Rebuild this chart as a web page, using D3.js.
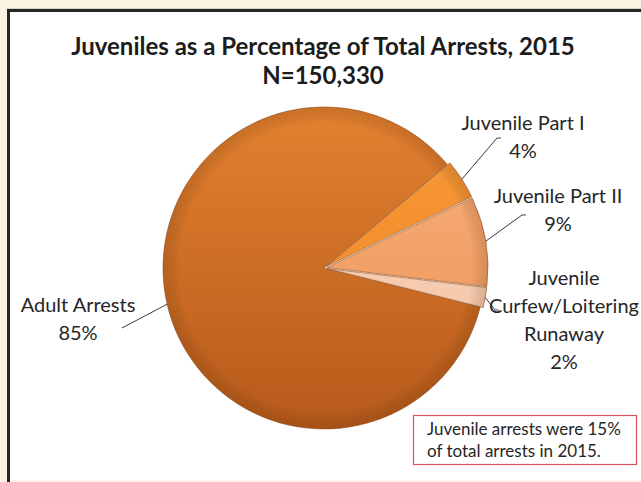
<!DOCTYPE html>
<html>
<head>
<meta charset="utf-8">
<script src="https://cdn.jsdelivr.net/npm/d3@7"></script>
<style>
  body { margin: 0; background: #fbf3e3; }
  svg { display: block; }
  text { font-family: Lato, "Open Sans", sans-serif; fill: #262626; }
</style>
</head>
<body>
<svg id="chart" width="641" height="482"></svg>
<script>
// chart data
const categories = ["Adult Arrests", "Juvenile Part I", "Juvenile Part II", "Juvenile Curfew/Loitering Runaway"]
const percents = [85, 4, 9, 2]
const labelLines = [["Adult Arrests"], ["Juvenile Part I"], ["Juvenile Part II"], ["Juvenile", "Curfew/Loitering", "Runaway"]]
const titleLines = ["Juveniles as a Percentage of Total Arrests, 2015", "N=150,330"]
const noteLines = ["Juvenile arrests were 15%", "of total arrests in 2015."]

// slice look: gradient top / bottom
const sliceColors = [
    ["#e3812f", "#b65a1b"],
    ["#f99a38", "#ec8426"],
    ["#fab27d", "#e98f52"],
    ["#fcdcc6", "#f0bd9c"]
]

// label placement (text anchor point, leader end)
const labelLayout = [
    {x: 78, y: 312, lead: [[122, 328]]},
    {x: 523, y: 130, lead: [[497, 138], [501, 138]]},
    {x: 558, y: 203, lead: [[522, 215], [526, 215]]},
    {x: 564, y: 285, lead: [[495, 310], [499, 310]]}
]

const width = 641, height = 482
const cx = 324, cy = 268, radius = 161
const deg = Math.PI / 180
const startDeg = 50 - 306

const svg = d3.select('#chart')

// frame
svg.append('rect').attr('width', width).attr('height', height).attr('fill', '#fbf3e3')
svg.append('rect').attr('x', 10).attr('y', 12).attr('width', width).attr('height', 468).attr('fill', '#fff')
svg.append('line').attr('x1', 7).attr('x2', width).attr('y1', 8.5).attr('y2', 8.5)
    .attr('stroke', '#d9d2c4').attr('stroke-width', 1)
svg.append('line').attr('x1', 7).attr('x2', width).attr('y1', 10.5).attr('y2', 10.5)
    .attr('stroke', '#262626').attr('stroke-width', 3)
svg.append('line').attr('x1', 8.5).attr('x2', 8.5).attr('y1', 9).attr('y2', height)
    .attr('stroke', '#262626').attr('stroke-width', 3)

// title
svg.append('g').selectAll('text')
    .data(titleLines)
    .enter()
        .append('text')
        .attr('x', 323)
        .attr('y', (d, i) => 55 + i * 29)
        .attr('text-anchor', 'middle')
        .style('font-weight', 'bold')
        .style('font-size', '24px')
        .style('fill', '#1c1c1c')
        .text(d => d)

// gradients (coords local to the pie group)
const defs = svg.append('defs')
sliceColors.forEach((c, i) => {
    const g = defs.append('linearGradient')
        .attr('id', 'grad' + i)
        .attr('gradientUnits', 'userSpaceOnUse')
        .attr('x1', 0).attr('x2', 0)
        .attr('y1', -radius).attr('y2', radius)
    g.append('stop').attr('offset', '0%').attr('stop-color', c[0])
    g.append('stop').attr('offset', '100%').attr('stop-color', c[1])
})
const rim = defs.append('radialGradient')
    .attr('id', 'rim')
    .attr('gradientUnits', 'userSpaceOnUse')
    .attr('cx', 0).attr('cy', 0).attr('r', radius)
rim.append('stop').attr('offset', '90%').attr('stop-color', '#000').attr('stop-opacity', 0)
rim.append('stop').attr('offset', '100%').attr('stop-color', '#5a2a00').attr('stop-opacity', 0.18)

const pie = d3.pie()
    .sort(null)
    .value(d => d)
    .startAngle(startDeg * deg)
    .endAngle(startDeg * deg + 2 * Math.PI)

const arcs = pie(percents)
const arc = d3.arc().innerRadius(0).outerRadius(radius)

// small explode for the juvenile slices
const offset = (d, i) => {
    if (i === 0) return [0, 0]
    const a = (d.startAngle + d.endAngle) / 2
    return [Math.sin(a) * 3, -Math.cos(a) * 3]
}

const slices = svg.append('g').selectAll('g.slice')
    .data(arcs)
    .enter()
        .append('g')
        .classed('slice', true)
        .attr('transform', (d, i) => `translate(${cx + offset(d, i)[0]},${cy + offset(d, i)[1]})`)

slices.append('path')
    .attr('d', arc)
    .attr('fill', (d, i) => `url(#grad${i})`)
    .attr('stroke', '#8f5228')
    .attr('stroke-width', 0.6)

slices.append('path')
    .attr('d', arc)
    .attr('fill', 'url(#rim)')

// leader lines
const leaders = svg.append('g')
arcs.forEach((d, i) => {
    const a = (d.startAngle + d.endAngle) / 2
    const o = offset(d, i)
    const p0 = [cx + o[0] + Math.sin(a) * radius, cy + o[1] - Math.cos(a) * radius]
    leaders.append('path')
        .attr('d', d3.line()([p0].concat(labelLayout[i].lead)))
        .attr('fill', 'none')
        .attr('stroke', '#262626')
        .attr('stroke-width', 0.9)
})

// labels
const labels = svg.append('g')
arcs.forEach((d, i) => {
    const lines = labelLines[i].concat([percents[i] + '%'])
    labels.append('g').selectAll('text')
        .data(lines)
        .enter()
            .append('text')
            .attr('x', labelLayout[i].x)
            .attr('y', (t, j) => labelLayout[i].y + j * 28)
            .attr('text-anchor', 'middle')
            .style('font-size', '20px')
            .text(t => t)
})

// note box
svg.append('rect')
    .attr('x', 413.5).attr('y', 415.5).attr('width', 223).attr('height', 49)
    .attr('fill', '#fff')
    .attr('stroke', '#d9545c')
    .attr('stroke-width', 1.2)
svg.append('g').selectAll('text')
    .data(noteLines)
    .enter()
        .append('text')
        .attr('x', 427)
        .attr('y', (d, i) => 435 + i * 22)
        .style('font-size', '17px')
        .text(d => d)
</script>
</body>
</html>
